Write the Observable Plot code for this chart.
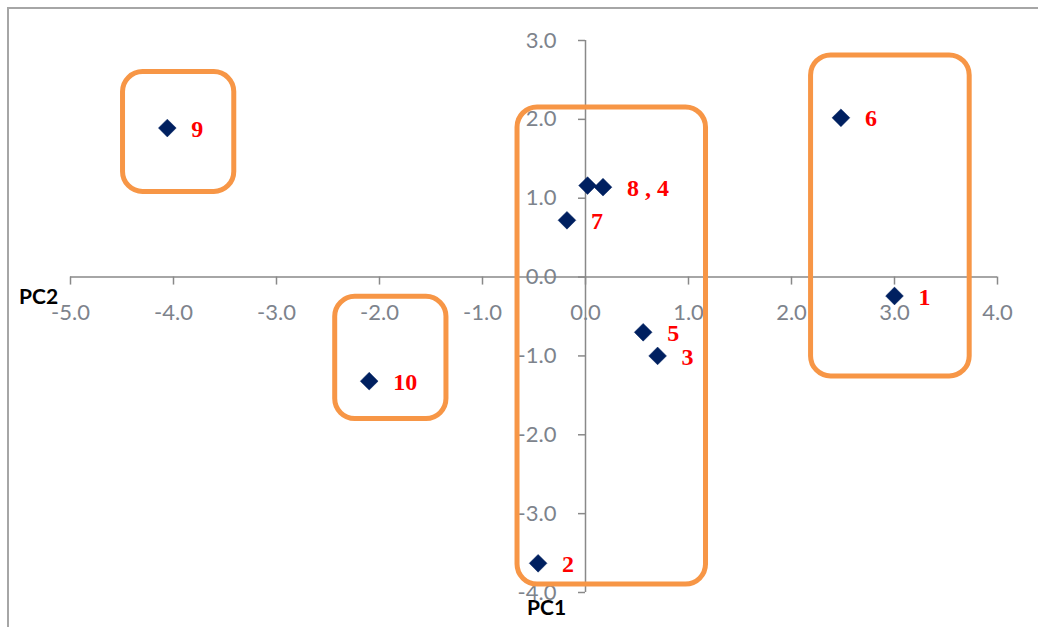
<!DOCTYPE html>
<html>
<head>
<meta charset="utf-8">
<script src="https://cdn.jsdelivr.net/npm/d3@7"></script>
<script src="https://cdn.jsdelivr.net/npm/@observablehq/plot@0.6"></script>
<style>
  html, body { margin: 0; padding: 0; background: #fff; overflow: hidden; }
  #wrap { position: relative; width: 1038px; height: 627px; }
  #frame { position: absolute; left: 7px; top: 7px; right: -10px; bottom: -10px;
           border-top: 2px solid #a6a6a6; border-left: 2px solid #a6a6a6; pointer-events: none; }
  .lbl { position: absolute; font-family: Lato, "Open Sans", sans-serif; font-weight: bold; font-size: 21px; color: #000; }
</style>
</head>
<body>
<div id="wrap">
  <div id="chart"></div>
  <div id="frame"></div>
  <div class="lbl" style="left:19px; top:283px;">PC2</div>
  <div class="lbl" style="left:527px; top:594px;">PC1</div>
</div>
<script>
// Observations (PC1, PC2) and their labels
const ids  = ["1", "2", "3", "4", "5", "6", "7", "8", "9", "10"];
const pc1  = [3.00, -0.46, 0.70, 0.17, 0.56, 2.48, -0.18, 0.02, -4.06, -2.10];
const pc2  = [-0.24, -3.63, -1.00, 1.14, -0.70, 2.02, 0.72, 1.16, 1.89, -1.32];

// Text labels (the "8 , 4" label is shared and placed next to point 4)
const labelText = ["1", "2", "3", "8 , 4", "5", "6", "7", "9", "10"];
const labelPc1  = [3.00, -0.46, 0.70, 0.17, 0.56, 2.48, -0.18, -4.06, -2.10];
const labelPc2  = [-0.24, -3.63, -1.00, 1.14, -0.70, 2.02, 0.72, 1.89, -1.32];

// Cluster boxes (in PC units)
const groupX1 = [-4.49, -2.43, -0.66, 2.19];
const groupX2 = [-3.41, -1.35, 1.17, 3.73];
const groupY1 = [1.08, -1.80, -3.90, -1.26];
const groupY2 = [2.60, -0.25, 2.15, 2.81];

// Axis ticks
const xTicks = [-5, -4, -3, -2, -1, 0, 1, 2, 3, 4];
const yTicks = [-4, -3, -2, -1, 0, 1, 2, 3];

const points = ids.map((id, i) => ({id, x: pc1[i], y: pc2[i]}));
const labels = labelText.map((t, i) => ({t, x: labelPc1[i], y: labelPc2[i]}));
const groups = groupX1.map((x1, i) => ({x1, x2: groupX2[i], y1: groupY1[i], y2: groupY2[i]}));

const axisColor = "#898989";
const tickTextColor = "#7d838c";
const fmt = d => d.toFixed(1);
const tickFont = "Lato, 'Open Sans', sans-serif";

const chart = Plot.plot({
  width: 1038,
  height: 627,
  marginLeft: 70,
  marginRight: 41,
  marginTop: 40,
  marginBottom: 35,
  x: {domain: [-5, 4], axis: null},
  y: {domain: [-4, 3], axis: null},
  marks: [
    // axis lines crossing at zero
    Plot.ruleY([0], {x1: -5, x2: 4, stroke: axisColor, strokeWidth: 1.5}),
    Plot.ruleX([0], {y1: -4, y2: 3, stroke: axisColor, strokeWidth: 1.5}),
    // tick marks
    Plot.ruleX(xTicks, {x: d => d, y1: 0, y2: 0, insetBottom: -8, stroke: axisColor, strokeWidth: 1.5}),
    Plot.ruleY(yTicks, {y: d => d, x1: 0, x2: 0, insetLeft: -7, stroke: axisColor, strokeWidth: 1.5}),
    // tick labels
    Plot.text(xTicks, {x: d => d, y: 0, text: d => fmt(d), dy: 36, fill: tickTextColor,
      fontSize: 22, fontFamily: tickFont}),
    Plot.text(yTicks, {x: 0, y: d => d, text: d => fmt(d), dx: -29, textAnchor: "end", fill: tickTextColor,
      fontSize: 22, fontFamily: tickFont}),
    // points
    Plot.dot(points, {x: "x", y: "y", symbol: "diamond2", r: 8, fill: "#002060", stroke: "#002060", strokeWidth: 0.5}),
    // labels
    Plot.text(labels, {x: "x", y: "y", text: "t", dx: 24, dy: 1, textAnchor: "start", fill: "#ff0000",
      fontSize: 24, fontWeight: "bold", fontFamily: "'Liberation Serif', 'Times New Roman', serif"}),
    // cluster boxes
    Plot.rect(groups, {x1: "x1", x2: "x2", y1: "y1", y2: "y2", fill: "none",
      stroke: "#f79646", strokeWidth: 5, rx: 20, ry: 20})
  ]
});
document.getElementById("chart").appendChild(chart);
</script>
</body>
</html>
